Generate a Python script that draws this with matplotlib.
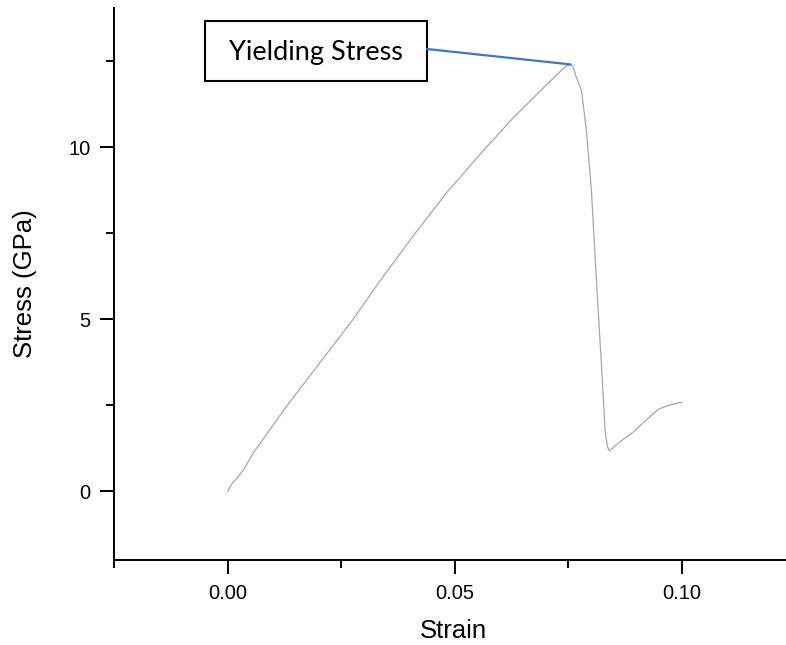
import matplotlib
matplotlib.use("Agg")
import matplotlib.pyplot as plt
from matplotlib.patches import Rectangle
from matplotlib.ticker import MultipleLocator

# strain / stress
strain = [0.0, 0.001, 0.002, 0.0035, 0.0057, 0.0130, 0.0203, 0.0276, 0.0335,
          0.0408, 0.0482, 0.0555, 0.0628, 0.0702, 0.0742, 0.0753, 0.0760,
          0.0767, 0.0779, 0.0790, 0.0801, 0.0812, 0.0823, 0.0831, 0.0836,
          0.0840, 0.0865, 0.0893, 0.0920, 0.0948, 0.0972, 0.0996, 0.1000]
stress = [0.0, 0.22, 0.36, 0.62, 1.12, 2.47, 3.73, 4.99, 6.10,
          7.41, 8.67, 9.78, 10.84, 11.81, 12.32, 12.40, 12.35,
          12.05, 11.64, 10.43, 8.69, 6.07, 3.63, 1.72, 1.30,
          1.17, 1.45, 1.72, 2.05, 2.38, 2.50, 2.58, 2.57]

peak = (0.0755, 12.40)
label = "Yielding Stress"

fig = plt.figure(figsize=(7.86, 6.45), dpi=100)
ax = fig.add_axes([0.145, 0.1318, 0.855, 0.8558])

ax.plot(strain, stress, color="#a6a6a6", lw=0.9)

ax.set_xlim(-0.025, 0.1229)
ax.set_ylim(-2, 14.04)
ax.xaxis.set_minor_locator(MultipleLocator(0.025))
ax.yaxis.set_minor_locator(MultipleLocator(2.5))
ax.set_xticks([0.0, 0.05, 0.10])
ax.set_xticklabels(["0.00", "0.05", "0.10"])
ax.set_yticks([0, 5, 10])
ax.set_yticklabels(["0", "5", "10"])

for s in ["top", "right"]:
    ax.spines[s].set_visible(False)
for s in ["left", "bottom"]:
    ax.spines[s].set_linewidth(1.4)

ax.tick_params(which="major", direction="out", length=10, width=1.4,
               labelsize=14.5, pad=7)
ax.tick_params(which="minor", direction="out", length=6, width=1.4)
for t in ax.get_xticklabels() + ax.get_yticklabels():
    t.set_fontfamily("Liberation Sans")

ax.set_xlabel("Strain", fontsize=18.5, family="Liberation Sans", va="center")
ax.set_ylabel("Stress (GPa)", fontsize=18.5, family="Liberation Sans", va="center")
ax.xaxis.set_label_coords(0.505, -0.1286)
ax.yaxis.set_label_coords(-0.1324, 0.5)

# annotation box
ax.add_patch(Rectangle((0.1354, 0.8678), 0.3304, 0.1086, transform=ax.transAxes,
                       facecolor="white", edgecolor="black", lw=1.5, zorder=3,
                       clip_on=False))
ax.text(0.3006, 0.919, label, transform=ax.transAxes, ha="center", va="center",
        fontsize=19.5, family="Lato", zorder=4)
ax.annotate("", xy=peak, xycoords="data", xytext=(0.4658, 0.9257),
            textcoords="axes fraction",
            arrowprops=dict(arrowstyle="-", color="#4472c4", lw=1.6,
                            shrinkA=0, shrinkB=0))

fig.savefig("out.png", dpi=100)
